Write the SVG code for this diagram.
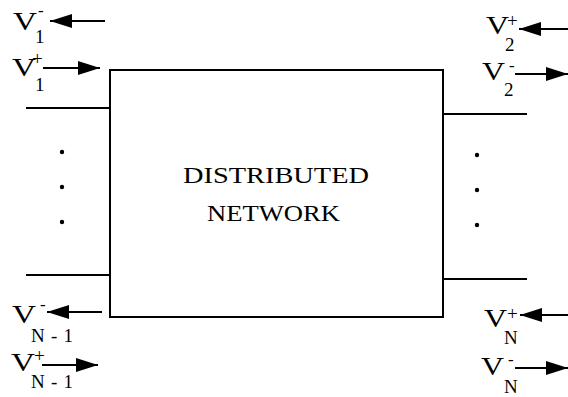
<svg xmlns="http://www.w3.org/2000/svg" width="568" height="397" viewBox="0 0 568 397">
<style>
.ln{stroke:#000;stroke-width:2;fill:none}
.ar{stroke:#000;stroke-width:2;fill:none;marker-end:url(#ah)}
.t{font-family:"Liberation Serif","Times New Roman",serif;fill:#000}
.v{font-size:25px}
.s{font-size:19px}
.p{font-size:19px}
.m{font-size:17px}
.c{font-size:23px}
.d{fill:#000}
</style>
<defs>
<marker id="ah" markerUnits="userSpaceOnUse" markerWidth="24" markerHeight="16" refX="22" refY="7" orient="auto">
<path d="M0,0 L22,7 L0,14 z" fill="#000"/>
</marker>
</defs>
<rect width="568" height="397" fill="#fff"/>
<g id="network">
<rect class="ln" x="110" y="70" width="333" height="247"/>
<text class="t c" x="183" y="183" textLength="186" lengthAdjust="spacingAndGlyphs">DISTRIBUTED</text>
<text class="t c" x="207" y="221" textLength="133" lengthAdjust="spacingAndGlyphs">NETWORK</text>
</g>
<g id="port1">
<text class="t v" x="13" y="30" textLength="24" lengthAdjust="spacingAndGlyphs">V</text>
<text class="t m" x="38" y="16">-</text>
<text class="t s" x="35" y="43">1</text>
<text class="t v" x="12" y="76" textLength="24" lengthAdjust="spacingAndGlyphs">V</text>
<text class="t p" x="32" y="65">+</text>
<text class="t s" x="35" y="91">1</text>
</g>
<g id="port2">
<text class="t v" x="486" y="34" textLength="23" lengthAdjust="spacingAndGlyphs">V</text>
<text class="t p" x="507" y="27">+</text>
<text class="t s" x="505" y="51">2</text>
<text class="t v" x="482" y="80" textLength="23" lengthAdjust="spacingAndGlyphs">V</text>
<text class="t m" x="509" y="71">-</text>
<text class="t s" x="504" y="96">2</text>
</g>
<g id="portN1">
<text class="t v" x="12" y="323" textLength="24" lengthAdjust="spacingAndGlyphs">V</text>
<text class="t m" x="40" y="310">-</text>
<text class="t s" x="31" y="342" textLength="42" lengthAdjust="spacing">N - 1</text>
<text class="t v" x="11" y="371" textLength="24" lengthAdjust="spacingAndGlyphs">V</text>
<text class="t p" x="34" y="362">+</text>
<text class="t s" x="31" y="388" textLength="42" lengthAdjust="spacing">N - 1</text>
</g>
<g id="portN">
<text class="t v" x="484" y="327" textLength="23" lengthAdjust="spacingAndGlyphs">V</text>
<text class="t p" x="507" y="320">+</text>
<text class="t s" x="504" y="344">N</text>
<text class="t v" x="481" y="375" textLength="23" lengthAdjust="spacingAndGlyphs">V</text>
<text class="t m" x="508" y="365">-</text>
<text class="t s" x="504" y="393">N</text>
</g>
<g id="dots">
<circle class="d" cx="62" cy="152" r="2.2"/>
<circle class="d" cx="62" cy="187" r="2.2"/>
<circle class="d" cx="62" cy="222" r="2.2"/>
<circle class="d" cx="477" cy="155" r="2.2"/>
<circle class="d" cx="477" cy="190" r="2.2"/>
<circle class="d" cx="477" cy="225" r="2.2"/>
</g>
<g id="connectors">
<line class="ln" x1="26" y1="108" x2="110" y2="108"/>
<line class="ln" x1="26" y1="275" x2="110" y2="275"/>
<line class="ln" x1="443" y1="114" x2="527" y2="114"/>
<line class="ln" x1="443" y1="279" x2="527" y2="279"/>
<line class="ar" x1="105" y1="21" x2="50" y2="21"/>
<line class="ar" x1="43" y1="68" x2="100" y2="68"/>
<line class="ar" x1="568" y1="29" x2="519" y2="29"/>
<line class="ar" x1="515" y1="74" x2="568" y2="74"/>
<line class="ar" x1="102" y1="312" x2="47" y2="312"/>
<line class="ar" x1="42" y1="365" x2="98" y2="365"/>
<line class="ar" x1="568" y1="315" x2="520" y2="315"/>
<line class="ar" x1="515" y1="368" x2="568" y2="368"/>
</g>
</svg>
